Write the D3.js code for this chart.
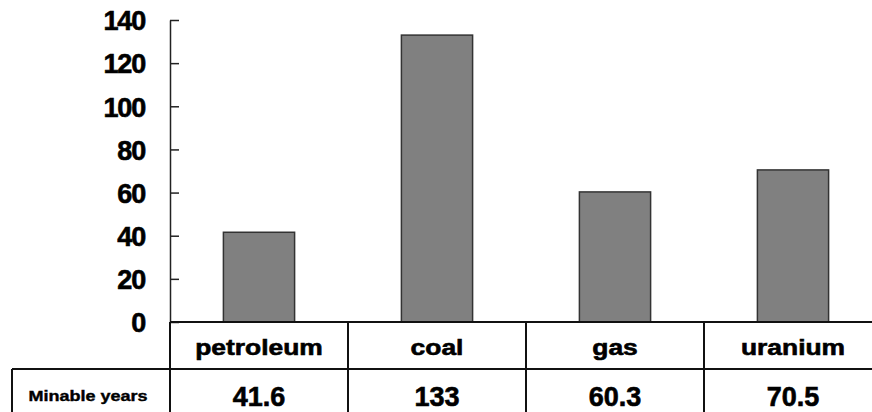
<!DOCTYPE html>
<html>
<head>
<meta charset="utf-8">
<script src="https://cdn.jsdelivr.net/npm/d3@7"></script>
<style>
  body { margin: 0; background: #fff; }
  svg { display: block; font-family: "Liberation Sans", Arial, sans-serif; }
  .heavy { stroke: #000; stroke-width: 0.6px; }
</style>
</head>
<body>
<div id="chart"></div>
<script>
// data
const categories = ["petroleum", "coal", "gas", "uranium"];
const minableYears = [41.6, 133, 60.3, 70.5];
const yTicks = [0, 20, 40, 60, 80, 100, 120, 140];
const rowLabel = "Minable years";

const width = 872, height = 412;
const plot = {left: 170, right: 882, top: 20, bottom: 322};
const headerBottom = 369;

const svg = d3.select("#chart").append("svg")
    .attr("width", width)
    .attr("height", height);

const x = d3.scaleBand()
    .domain(categories)
    .range([plot.left, plot.right])
    .paddingInner(0.6)
    .paddingOuter(0.3);

// columns of the table under the chart
const col = d3.scaleBand()
    .domain(categories)
    .range([plot.left, plot.right]);

const y = d3.scaleLinear()
    .domain([0, 140])
    .range([plot.bottom, plot.top]);

// bars
svg.append("g")
    .selectAll("rect")
    .data(categories)
    .enter()
    .append("rect")
    .attr("x", d => x(d))
    .attr("y", (d, i) => y(minableYears[i]))
    .attr("width", x.bandwidth())
    .attr("height", (d, i) => y(0) - y(minableYears[i]))
    .attr("fill", "#808080")
    .attr("stroke", "#333")
    .attr("stroke-width", 1.5);

// y axis, ticks pointing inward
const yAxis = d3.axisLeft(y)
    .tickValues(yTicks)
    .tickSize(-9)
    .tickSizeOuter(0)
    .tickPadding(25);

const ga = svg.append("g")
    .attr("transform", `translate(${plot.left},0)`)
    .call(yAxis);

ga.select(".domain").attr("stroke", "#222").attr("stroke-width", 1.5);
ga.selectAll(".tick line").attr("stroke", "#222").attr("stroke-width", 1.5);
ga.selectAll(".tick text")
    .attr("class", "heavy")
    .attr("fill", "#000")
    .style("font-size", "27px")
    .style("font-weight", "bold")
    .style("letter-spacing", "-1.2px")
    .attr("dy", "0.36em");

// table lines
const table = svg.append("g")
    .attr("stroke", "#111")
    .attr("stroke-width", 2);

table.append("line")
    .attr("x1", plot.left).attr("x2", width)
    .attr("y1", plot.bottom).attr("y2", plot.bottom);

table.append("line")
    .attr("x1", 12).attr("x2", width)
    .attr("y1", headerBottom).attr("y2", headerBottom);

table.append("line")
    .attr("x1", 12).attr("x2", 12)
    .attr("y1", headerBottom).attr("y2", height);

table.selectAll(".col-line")
    .data(categories)
    .enter()
    .append("line")
    .attr("class", "col-line")
    .attr("x1", d => col(d)).attr("x2", d => col(d))
    .attr("y1", plot.bottom).attr("y2", height);

// category header row
svg.append("g")
    .selectAll("text")
    .data(categories)
    .enter()
    .append("text")
    .attr("class", "heavy")
    .attr("transform", d => `translate(${col(d) + col.bandwidth() / 2},355) scale(1.2,1)`)
    .attr("text-anchor", "middle")
    .style("font-size", "22px")
    .style("font-weight", "bold")
    .text(d => d);

// value row
svg.append("text")
    .attr("class", "heavy")
    .attr("transform", "translate(88,401) scale(1.2,1)")
    .attr("text-anchor", "middle")
    .style("font-size", "15px")
    .style("font-weight", "bold")
    .style("stroke-width", "0.4px")
    .text(rowLabel);

svg.append("g")
    .selectAll("text")
    .data(categories)
    .enter()
    .append("text")
    .attr("class", "heavy")
    .attr("x", d => col(d) + col.bandwidth() / 2)
    .attr("y", 406)
    .attr("text-anchor", "middle")
    .style("font-size", "27px")
    .style("font-weight", "bold")
    .text((d, i) => minableYears[i]);
</script>
</body>
</html>
